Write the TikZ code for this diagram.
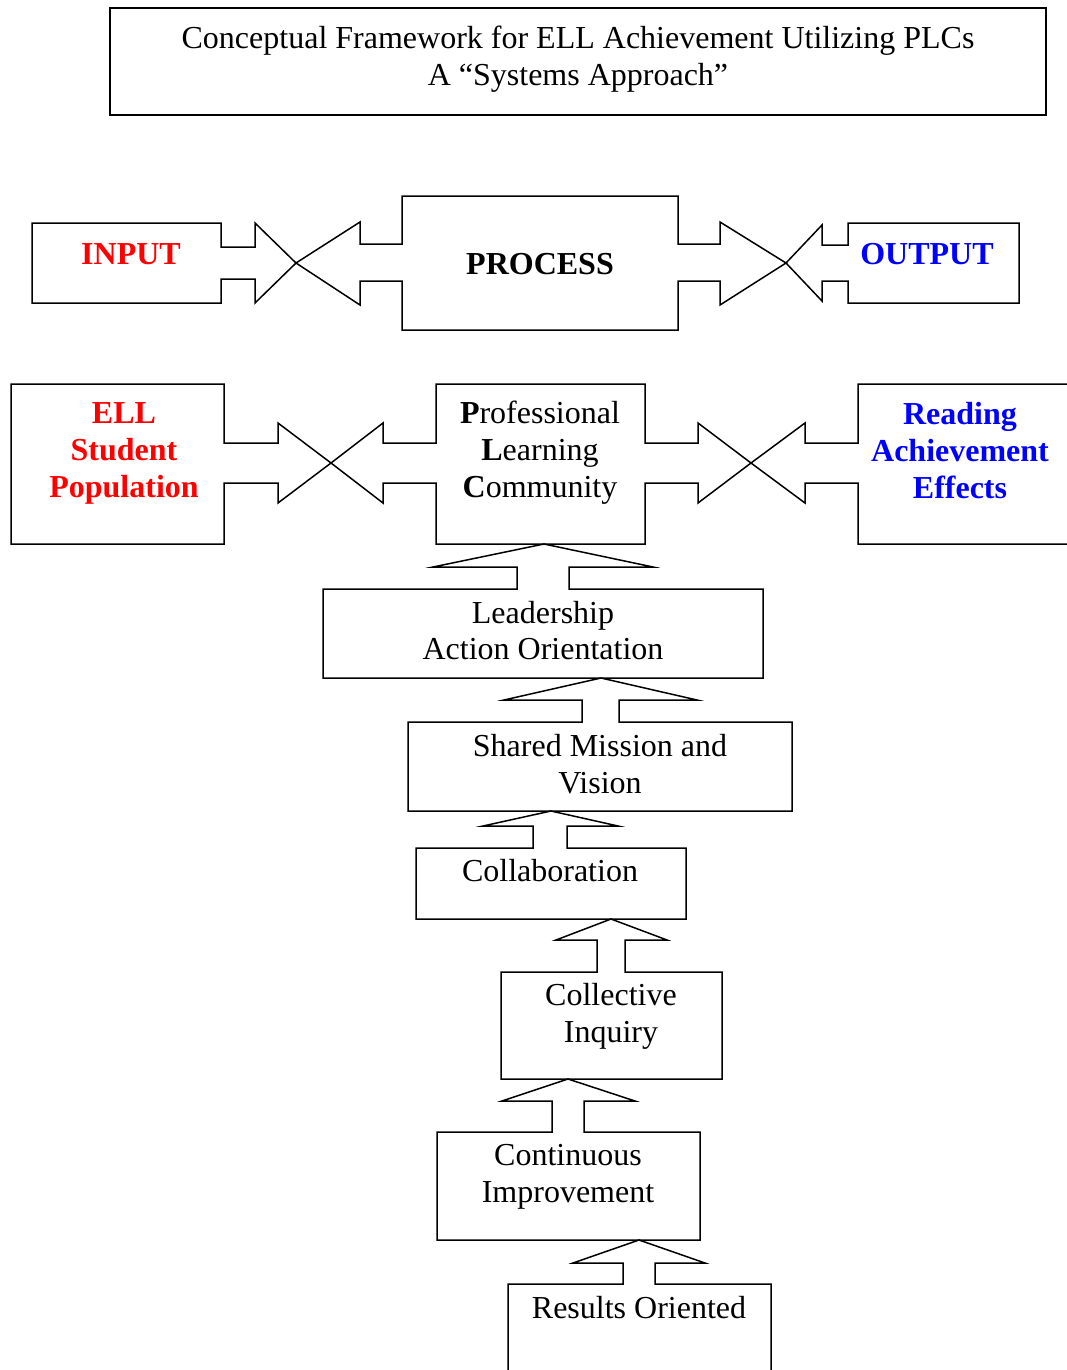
\documentclass[tikz,border=0pt]{standalone}
\usepackage{fontspec}
\setmainfont{Liberation Serif}
\definecolor{inred}{RGB}{255,0,0}
\definecolor{outblue}{RGB}{0,0,255}
\begin{document}
\begin{tikzpicture}[x=1pt,y=-1pt,
  outline/.style={draw=black,line width=1.5pt,line join=miter},
  txt/.style={inner sep=0pt,align=center,font=\fontsize{32}{37}\selectfont},
  btxt/.style={txt,font=\fontsize{32}{37}\selectfont\bfseries},
  redtxt/.style={btxt,text=inred},
  bluetxt/.style={btxt,text=outblue}]
\useasboundingbox (0,0) rectangle (1067,1370);
\fill[white] (0,0) rectangle (1067,1370);

% title
\draw[outline] (110,8) rectangle (1046,115);
\node[txt] (title) at (578,59) {Conceptual Framework for ELL Achievement Utilizing PLCs\\A “Systems Approach”};

% row 1
\draw[outline] (32,223) -- (221,223) -- (221,247) -- (255,247) -- (255,223) -- (296,263) -- (255,303) -- (255,279) -- (221,279) -- (221,303) -- (32,303) -- cycle;
\draw[outline] (402,196) -- (678,196) -- (678,244) -- (720,244) -- (720,222) -- (786,263) -- (720,305) -- (720,281) -- (678,281) -- (678,330) -- (402,330) -- (402,281) -- (360,281) -- (360,305) -- (296,263) -- (360,222) -- (360,244) -- (402,244) -- cycle;
\draw[outline] (848,223) -- (1019,223) -- (1019,303) -- (848,303) -- (848,281) -- (822,281) -- (822,301) -- (786,263) -- (822,225) -- (822,245) -- (848,245) -- cycle;
\node[redtxt] (input) at (131,254) {INPUT};
\node[btxt] (process) at (540,264) {PROCESS};
\node[bluetxt] (output) at (927,254) {OUTPUT};

% row 2
\draw[outline] (11,384) -- (224,384) -- (224,443) -- (278,443) -- (278,423) -- (331,463) -- (278,503) -- (278,483) -- (224,483) -- (224,544) -- (11,544) -- cycle;
\draw[outline] (436,384) -- (645,384) -- (645,443) -- (698,443) -- (698,423) -- (751,463) -- (698,503) -- (698,483) -- (645,483) -- (645,544) -- (436,544) -- (436,483) -- (383,483) -- (383,503) -- (331,463) -- (383,423) -- (383,443) -- (436,443) -- cycle;
\draw[outline] (1072,384) -- (858,384) -- (858,443) -- (805,443) -- (805,423) -- (751,463) -- (805,503) -- (805,483) -- (858,483) -- (858,544) -- (1072,544);
\node[redtxt] (ell) at (124,453) {ELL\\Student\\Population};
\node[txt] (plc) at (540,453) {\textbf{P}rofessional\\\textbf{L}earning\\\textbf{C}ommunity};
\node[bluetxt] (reading) at (960,451) {Reading\\Achievement\\Effects};

% vertical chain
\draw[outline] (323,589) -- (517,589) -- (517,567) -- (433,567) -- (544,544) -- (653,567) -- (569,567) -- (569,589) -- (763,589) -- (763,678) -- (323,678) -- cycle;
\node[txt,font=\fontsize{32}{36}\selectfont] (leader) at (543,631) {Leadership\\Action Orientation};

\draw[outline] (408,722) -- (582,722) -- (582,700) -- (504,700) -- (601,678) -- (697,700) -- (619,700) -- (619,722) -- (792,722) -- (792,811) -- (408,811) -- cycle;
\node[txt] (shared) at (600,764) {Shared Mission and\\Vision};

\draw[outline] (416,848) -- (533,848) -- (533,826) -- (483,826) -- (551,811) -- (618,826) -- (567,826) -- (567,848) -- (686,848) -- (686,919) -- (416,919) -- cycle;
\node[txt] (collab) at (550,871) {Collaboration};

\draw[outline] (501,972) -- (597,972) -- (597,940) -- (556,940) -- (611,919) -- (667,940) -- (625,940) -- (625,972) -- (722,972) -- (722,1079) -- (501,1079) -- cycle;
\node[txt] (inquiry) at (611,1016) {Collective\\Inquiry};

\draw[outline] (437,1132) -- (552,1132) -- (552,1101) -- (502,1101) -- (568,1079) -- (635,1101) -- (584,1101) -- (584,1132) -- (700,1132) -- (700,1240) -- (437,1240) -- cycle;
\node[txt] (improve) at (568,1177) {Continuous\\Improvement};

\draw[outline] (508,1376) -- (508,1284) -- (623,1284) -- (623,1263) -- (573,1263) -- (639,1240) -- (705,1263) -- (655,1263) -- (655,1284) -- (771,1284) -- (771,1376);
\node[txt] (results) at (639,1308) {Results Oriented};
\end{tikzpicture}
\end{document}
